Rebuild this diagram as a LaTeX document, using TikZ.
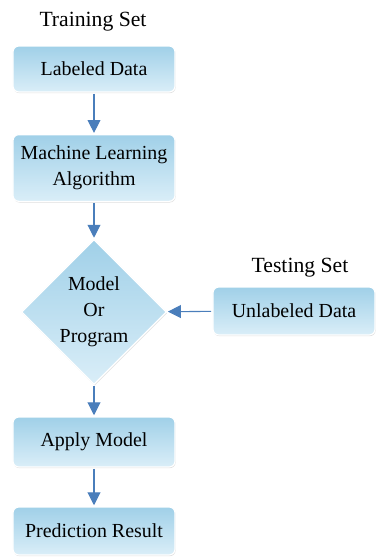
\documentclass[tikz,border=0pt]{standalone}
\usepackage{fontspec}
\setmainfont{Liberation Serif}
\usetikzlibrary{shapes.geometric,arrows.meta,shadows}
\definecolor{boxtop}{RGB}{160,208,232}
\definecolor{boxbot}{RGB}{218,238,248}
\definecolor{arrowblue}{RGB}{74,126,187}
\tikzset{
  stepbox/.style={rectangle,rounded corners=5pt,draw=white,line width=1pt,
    top color=boxtop,bottom color=boxbot,align=center,
    minimum width=4.86cm,inner sep=2pt,
    drop shadow={shadow xshift=0.5pt,shadow yshift=-1pt,opacity=0.25}},
  modelbox/.style={diamond,draw=white,line width=1pt,
    top color=boxtop,bottom color=boxbot,align=center,
    minimum width=4.35cm,minimum height=4.35cm,inner sep=0pt,
    drop shadow={shadow xshift=0.5pt,shadow yshift=-1pt,opacity=0.25}},
  settitle/.style={font=\fontsize{18.5}{22}\selectfont},
  flow/.style={arrowblue,line width=0.9pt,-{Triangle[length=11pt,width=11pt]},shorten >=1pt,shorten <=1pt}
}
\begin{document}
\begin{tikzpicture}[x=0.03cm,y=-0.03cm,font=\fontsize{17}{22}\selectfont]
                \useasboundingbox (0,0) rectangle (377,557);
                % training branch
                \node[settitle] (train) at (93,22) {Training Set};
                \node[stepbox,minimum height=1.38cm] (lab) at (94,69) {Labeled Data};
                \node[stepbox,minimum height=2.0cm] (mla) at (94,168) {Machine Learning\\Algorithm};
                \node[modelbox] (model) at (94,312) {Model\\Or\\Program};
                \node[stepbox,minimum height=1.5cm] (apply) at (94,442) {Apply Model};
                \node[stepbox,minimum height=1.44cm] (pred) at (94,531) {Prediction Result};
                % testing branch
                \node[settitle] (test) at (300,268) {Testing Set};
                \node[stepbox,minimum height=1.44cm] (unlab) at (294,311) {Unlabeled Data};
                \draw[flow] (lab) -- (mla);
                \draw[flow] (mla) -- (model);
                \draw[flow] (model) -- (apply);
                \draw[flow] (apply) -- (pred);
                \draw[flow] (unlab) -- (model);
            \end{tikzpicture}
\end{document}
